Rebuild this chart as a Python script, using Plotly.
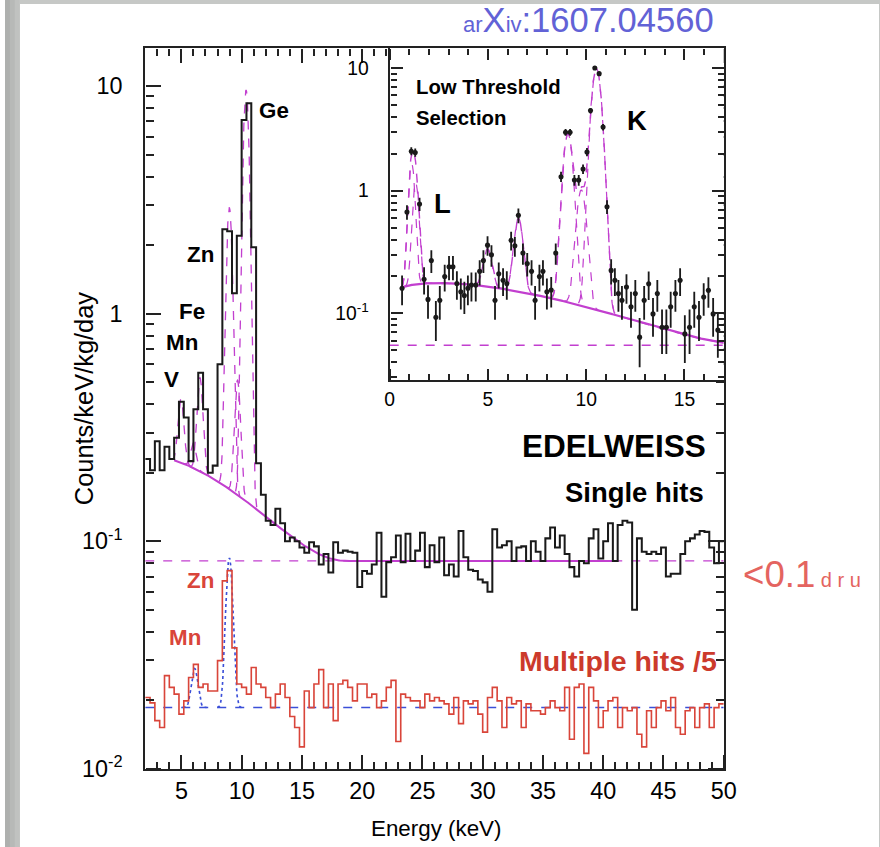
import numpy as np
import plotly.graph_objects as go

# Page is laid out on an 880 x 847 grid; the canvas is scaled up slightly (Z).
REF_W, REF_H = 880, 847
Z = 1.017
W, H = round(REF_W * Z), round(REF_H * Z)
FONT = "Liberation Sans, Arial, sans-serif"

# ---------------- data ----------------
# Single-hit spectrum, 0.4 keV bins starting at 2.0 keV (counts/keV/kg/day)
bin_width = 0.4
e_start = 2.0
single_hits = [
    0.23, 0.205, 0.275, 0.205, 0.26, 0.23, 0.285, 0.41, 0.35, 0.225,
    0.38, 0.55, 0.38, 0.20, 0.215, 0.60, 2.35, 2.3, 1.23, 2.2,
    7.1, 8.4, 1.96, 0.22, 0.16, 0.123, 0.118, 0.139, 0.12, 0.10,
    0.104, 0.10, 0.094, 0.089, 0.099, 0.095, 0.079, 0.088, 0.073, 0.099,
    0.089, 0.091, 0.09, 0.089, 0.063, 0.074, 0.072, 0.079, 0.109, 0.057,
    0.081, 0.085, 0.106, 0.081, 0.108, 0.082, 0.091, 0.109, 0.077, 0.096,
    0.081, 0.104, 0.071, 0.079, 0.07, 0.111, 0.085, 0.075, 0.074, 0.068,
    0.066, 0.06, 0.113, 0.094, 0.096, 0.10, 0.082, 0.094, 0.095, 0.082,
    0.10, 0.09, 0.082, 0.103, 0.115, 0.094, 0.106, 0.088, 0.077, 0.07,
    0.082, 0.08, 0.103, 0.113, 0.084, 0.10, 0.12, 0.082, 0.118, 0.123,
    0.121, 0.05, 0.103, 0.09, 0.088, 0.09, 0.088, 0.094, 0.07, 0.072,
    0.072, 0.088, 0.10, 0.103, 0.107, 0.111, 0.11, 0.094, 0.08, 0.10,
]

# Multiple-hit spectrum divided by 5, same binning
multiple_hits_div5 = [
    0.0206, 0.0195, 0.0163, 0.0152, 0.0257, 0.0228, 0.0213, 0.0174, 0.0199, 0.0252,
    0.0288, 0.0228, 0.0236, 0.022, 0.022, 0.0299, 0.067, 0.0743, 0.034, 0.0236,
    0.0228, 0.0213, 0.0279, 0.0236, 0.0228, 0.0206, 0.0186, 0.0213, 0.0236, 0.0206,
    0.017, 0.0152, 0.0125, 0.022, 0.0186, 0.0236, 0.0273, 0.0186, 0.0236, 0.0163,
    0.0236, 0.0245, 0.0228, 0.0199, 0.0236, 0.0236, 0.0206, 0.0213, 0.0186, 0.0199,
    0.0228, 0.0245, 0.0132, 0.0213, 0.0206, 0.0199, 0.0199, 0.0186, 0.0213, 0.0199,
    0.0206, 0.0199, 0.0193, 0.0174, 0.0206, 0.0158, 0.0199, 0.0193, 0.0199, 0.0174,
    0.0145, 0.0206, 0.0228, 0.0199, 0.0152, 0.0206, 0.0193, 0.0199, 0.0152, 0.0193,
    0.018, 0.018, 0.0174, 0.0186, 0.0199, 0.0186, 0.018, 0.0228, 0.0135, 0.0228,
    0.0236, 0.0117, 0.0228, 0.0199, 0.0152, 0.018, 0.0199, 0.0206, 0.0152, 0.0186,
    0.018, 0.0186, 0.0142, 0.0125, 0.018, 0.0152, 0.0186, 0.0199, 0.018, 0.0206,
    0.0152, 0.0142, 0.018, 0.0186, 0.0152, 0.0186, 0.0193, 0.0152, 0.0186, 0.0193,
]

# Low-threshold selection (inset): point energies (keV) and rates
inset_energy = [
    0.63, 0.88, 1.10, 1.30, 1.52, 1.75, 1.95, 2.12, 2.35, 2.55,
    2.80, 3.02, 3.22, 3.42, 3.62, 3.80, 3.98, 4.16, 4.38, 4.58,
    4.77, 4.98, 5.18, 5.36, 5.55, 5.77, 5.96, 6.18, 6.37, 6.55,
    6.78, 7.00, 7.22, 7.40, 7.62, 7.80, 8.00, 8.22, 8.45, 8.72,
    8.95, 9.18, 9.40, 9.62, 9.84, 10.04, 10.22, 10.44, 10.66, 10.86,
    11.06, 11.27, 11.46, 11.64, 11.82, 12.05, 12.28, 12.50, 12.72, 12.95,
    13.18, 13.40, 13.62, 13.86, 14.08, 14.30, 14.54, 14.78, 15.02, 15.26,
    15.50, 15.74, 15.98, 16.22, 16.46, 16.70,
]
inset_rate = [
    0.16, 0.67, 2.1, 2.05, 0.78, 0.19, 0.13, 0.27, 0.093, 0.128,
    0.20, 0.24, 0.24, 0.175, 0.15, 0.14, 0.16, 0.17, 0.17, 0.22,
    0.27, 0.36, 0.30, 0.128, 0.21, 0.186, 0.175, 0.394, 0.355, 0.63,
    0.31, 0.255, 0.22, 0.128, 0.20, 0.22, 0.15, 0.155, 0.31, 1.3,
    3.0, 3.0, 1.22, 1.22, 1.5, 2.07, 4.5, 10.0, 9.0, 3.3,
    0.74, 0.224, 0.186, 0.145, 0.128, 0.164, 0.113, 0.145, 0.064, 0.128,
    0.174, 0.099, 0.145, 0.077, 0.077, 0.113, 0.145, 0.186, 0.068, 0.077,
    0.113, 0.093, 0.136, 0.154, 0.099, 0.073,
]
inset_err_per_rate = 0.012   # variance scale for the Poisson-like error bars

# Fit model parameters: flat level + tritium beta spectrum + gaussian lines
main_flat = 0.082
main_tritium_ref = (4.5, 0.144)          # (energy, tritium contribution there)
main_line_e = [4.97, 5.99, 6.54, 8.98, 9.66, 10.37]
main_line_amp = [0.20, 0.06, 0.32, 2.75, 0.35, 9.45]
main_line_sigma = [0.22, 0.22, 0.22, 0.22, 0.22, 0.22]

multi_flat = 0.0186
multi_line_e = [6.1, 8.98]
multi_line_amp = [0.009, 0.066]
multi_line_sigma = [0.25, 0.25]

inset_flat = 0.055
inset_tritium_ref = (5.0, 0.11)
inset_line_e = [1.12, 1.32, 4.98, 6.55, 9.07, 9.75, 10.52]
inset_line_amp = [1.5, 1.0, 0.17, 0.45, 2.8, 0.9, 9.8]
inset_line_sigma = [0.14, 0.14, 0.2, 0.2, 0.22, 0.22, 0.23]

# ---------------- colours ----------------
BLACK = "#1a1a1a"
RED = "#d9453a"
MAGENTA = "#c23fcf"
BLUE = "#3b4fd8"
AXIS = "#222222"


def z(v):
    """Scale a pixel size (font, tick length, line width) to the canvas."""
    return v * Z


def zi(v):
    """Integer version of z() for properties that only accept integers."""
    return int(round(v * Z))


def tritium(E):
    """Tritium beta spectrum shape with Fermi function (Q = 18.6 keV)."""
    E = np.asarray(E, dtype=float)
    q, me, alpha = 18.6, 511.0, 1 / 137.036
    p = np.sqrt(E ** 2 + 2 * me * E)
    etot = E + me
    eta = 2 * alpha * etot / p
    fermi = 2 * np.pi * eta / (1 - np.exp(-2 * np.pi * eta))
    return fermi * p * etot * np.clip(q - E, 0, None) ** 2


def background(E, flat, ref):
    e_ref, v_ref = ref
    return flat + v_ref * tritium(E) / tritium(e_ref)


def gauss(E, mu, amp, sig):
    return amp * np.exp(-0.5 * ((np.asarray(E) - mu) / sig) ** 2)


def px(x):
    return x / REF_W


def py(y):
    return 1 - y / REF_H


edges = [e_start + bin_width * i for i in range(len(single_hits) + 1)]
fig = go.Figure()

# ---------------- main panel ----------------
fig.add_trace(go.Scatter(x=[2, 50], y=[main_flat, main_flat], mode="lines",
                         line=dict(color=MAGENTA, width=z(1.4), dash="dash"),
                         hoverinfo="skip"))
fig.add_trace(go.Scatter(x=[2, 50], y=[multi_flat, multi_flat], mode="lines",
                         line=dict(color=BLUE, width=z(1.4), dash="dash"),
                         hoverinfo="skip"))
for mu, a, s in zip(multi_line_e, multi_line_amp, multi_line_sigma):
    ee = np.linspace(mu - 4 * s, mu + 4 * s, 80)
    fig.add_trace(go.Scatter(x=ee, y=multi_flat + gauss(ee, mu, a, s), mode="lines",
                             line=dict(color=BLUE, width=z(1.6), dash="dot"),
                             hoverinfo="skip"))
e_fit = np.linspace(4.4, 41, 600)
fig.add_trace(go.Scatter(x=e_fit, y=background(e_fit, main_flat, main_tritium_ref),
                         mode="lines", line=dict(color=MAGENTA, width=z(2)),
                         hoverinfo="skip"))
e_pk = np.linspace(4.0, 12.0, 800)
bkg_pk = background(e_pk, main_flat, main_tritium_ref)
for mu, a, s in zip(main_line_e, main_line_amp, main_line_sigma):
    sel = np.abs(e_pk - mu) < 4 * s
    fig.add_trace(go.Scatter(x=e_pk[sel], y=bkg_pk[sel] + gauss(e_pk[sel], mu, a, s),
                             mode="lines",
                             line=dict(color=MAGENTA, width=z(1.3), dash="dash"),
                             hoverinfo="skip"))
fig.add_trace(go.Scatter(x=edges, y=multiple_hits_div5 + [multiple_hits_div5[-1]],
                         mode="lines", line=dict(color=RED, width=z(1.6), shape="hv"),
                         hoverinfo="skip"))
fig.add_trace(go.Scatter(x=edges, y=single_hits + [single_hits[-1]],
                         mode="lines", line=dict(color=BLACK, width=z(2), shape="hv"),
                         hoverinfo="skip"))

# ---------------- inset ----------------
fig.add_trace(go.Scatter(x=[0, 17], y=[inset_flat, inset_flat], mode="lines",
                         line=dict(color=MAGENTA, width=z(1.4), dash="dash"),
                         xaxis="x2", yaxis="y2", hoverinfo="skip"))
e_in = np.linspace(0.6, 17, 900)
bkg_in = background(e_in, inset_flat, inset_tritium_ref)
fig.add_trace(go.Scatter(x=e_in, y=bkg_in, mode="lines",
                         line=dict(color=MAGENTA, width=z(2.2)),
                         xaxis="x2", yaxis="y2", hoverinfo="skip"))
for mu, a, s in zip(inset_line_e, inset_line_amp, inset_line_sigma):
    sel = np.abs(e_in - mu) < 4 * s
    fig.add_trace(go.Scatter(x=e_in[sel], y=bkg_in[sel] + gauss(e_in[sel], mu, a, s),
                             mode="lines",
                             line=dict(color=MAGENTA, width=z(1.2), dash="dash"),
                             xaxis="x2", yaxis="y2", hoverinfo="skip"))
total_in = bkg_in + sum(gauss(e_in, mu, a, s) for mu, a, s in
                        zip(inset_line_e, inset_line_amp, inset_line_sigma))
fig.add_trace(go.Scatter(x=e_in, y=total_in, mode="lines",
                         line=dict(color=MAGENTA, width=z(1.4), dash="dash"),
                         xaxis="x2", yaxis="y2", hoverinfo="skip"))
rate = np.array(inset_rate)
err = np.sqrt(rate * inset_err_per_rate)
err_lo = np.minimum(err, 0.8 * rate)
fig.add_trace(go.Scatter(x=inset_energy, y=inset_rate, mode="markers",
                         marker=dict(color=BLACK, size=z(5)),
                         error_y=dict(type="data", array=err, arrayminus=err_lo,
                                      color=BLACK, thickness=z(1.8), width=0),
                         xaxis="x2", yaxis="y2", hoverinfo="skip"))

# ---------------- axes ----------------
x0, x1 = 140.7, 721.2
y_top, y_bot = 48, 768
ix0, iy_bot = 386, 380

main_xticks = [5, 10, 15, 20, 25, 30, 35, 40, 45, 50]
main_xminor = [e for e in range(3, 50) if e % 5]
main_yticks = [0.01, 0.1, 1, 10]
inset_xticks = [0, 5, 10, 15]
inset_xminor = [e for e in range(1, 17) if e % 5]
inset_yticks = [0.1, 1, 10]


def log_minor(lo, hi):
    return [m * 10.0 ** d for d in range(lo, hi + 1) for m in range(2, 10)]


main_tf = dict(family=FONT, size=z(23), color="black")
inset_tf = dict(family=FONT, size=z(19), color="black")
frame = dict(showline=True, linecolor=AXIS, linewidth=z(2), mirror=True, ticks="",
             showgrid=False, zeroline=False)

scales = {
    "mx": dict(range=[2, 50]),
    "my": dict(type="log", range=[-2, 1.167]),
    "ix": dict(range=[0, 17]),
    "iy": dict(type="log", range=[-1.547, 1.163]),
}

axes = dict(
    xaxis=dict(**frame, **scales["mx"], domain=[px(x0), px(x1)], anchor="y",
               tickvals=main_xticks, tickfont=main_tf),
    yaxis=dict(**frame, **scales["my"], domain=[py(y_bot), py(y_top)], anchor="x",
               tickvals=main_yticks,
               ticktext=["10<sup>-2</sup>", "10<sup>-1</sup>", "1", "10"],
               ticklabelstandoff=zi(16), tickfont=main_tf),
    xaxis2=dict(**frame, **scales["ix"], domain=[px(ix0), px(x1)], anchor="y2",
                tickvals=inset_xticks, tickfont=inset_tf),
    yaxis2=dict(**frame, **scales["iy"], domain=[py(iy_bot), py(y_top)], anchor="x2",
                tickvals=inset_yticks, ticktext=["10<sup>-1</sup>", "1", "10"],
                ticklabelstandoff=zi(15), tickfont=inset_tf),
)

# Tick marks pointing into the frames: free overlay axes placed on each frame edge,
# with their "outside" direction facing the plotting area.
tick_axes = [
    # (base axis, scale, side, position, tickvals, ticklen)
    ("x", "mx", "top", py(y_bot), main_xticks, 14),
    ("x", "mx", "top", py(y_bot), main_xminor, 7),
    ("x", "mx", "bottom", py(y_top), main_xticks, 14),
    ("x", "mx", "bottom", py(y_top), main_xminor, 7),
    ("y", "my", "right", px(x0), main_yticks, 15),
    ("y", "my", "right", px(x0), log_minor(-2, 1), 8),
    ("y", "my", "left", px(x1), main_yticks, 15),
    ("y", "my", "left", px(x1), log_minor(-2, 1), 8),
    ("x2", "ix", "top", py(iy_bot), inset_xticks, 11),
    ("x2", "ix", "top", py(iy_bot), inset_xminor, 6),
    ("x2", "ix", "bottom", py(y_top), inset_xticks, 11),
    ("x2", "ix", "bottom", py(y_top), inset_xminor, 6),
    ("y2", "iy", "right", px(ix0), inset_yticks, 12),
    ("y2", "iy", "right", px(ix0), log_minor(-2, 1), 6),
    ("y2", "iy", "left", px(x1), inset_yticks, 12),
    ("y2", "iy", "left", px(x1), log_minor(-2, 1), 6),
]
counters = {"x": 3, "y": 3}
for base_ax, sc, side, pos, tv, tl in tick_axes:
    letter = base_ax[0]
    n = counters[letter]
    counters[letter] += 1
    axes[f"{letter}axis{n}"] = dict(
        **scales[sc], overlaying=base_ax, anchor="free", position=pos, side=side,
        ticks="outside", ticklen=z(tl), tickwidth=z(1.6), tickcolor=AXIS, tickvals=tv,
        showticklabels=False, showline=False, showgrid=False, zeroline=False)
    if letter == "x":
        partner = "y" if base_ax == "x" else "y2"
        fig.add_trace(go.Scatter(x=[None], y=[None], xaxis=f"x{n}", yaxis=partner,
                                 mode="lines", hoverinfo="skip"))
    else:
        partner = "x" if base_ax == "y" else "x2"
        fig.add_trace(go.Scatter(x=[None], y=[None], xaxis=partner, yaxis=f"y{n}",
                                 mode="lines", hoverinfo="skip"))

fig.update_layout(
    width=W, height=H, autosize=False,
    margin=dict(l=0, r=0, t=0, b=0),
    paper_bgcolor="white", plot_bgcolor="white",
    showlegend=False,
    **axes,
)

# slide-like framing: grey strips along the left, top and right edges
for i, c in enumerate(["#aeb0ae", "#b7b9b7", "#c0c2c0"]):
    fig.add_shape(type="rect", xref="paper", yref="paper", layer="below",
                  x0=px(5 * i), x1=px(5 * i + 5), y0=0, y1=1,
                  fillcolor=c, line=dict(width=0))
fig.add_shape(type="rect", xref="paper", yref="paper", layer="below",
              x0=px(15), x1=1, y0=py(4), y1=1, fillcolor="#c6c8c6", line=dict(width=0))
fig.add_shape(type="rect", xref="paper", yref="paper", layer="below",
              x0=px(877), x1=1, y0=0, y1=1, fillcolor="#c6c8c6", line=dict(width=0))


def label(text, x, y, size, color="black", bold=True, xanchor="center", angle=0):
    t = f"<b>{text}</b>" if bold else text
    fig.add_annotation(text=t, x=px(x), y=py(y), xref="paper", yref="paper",
                       showarrow=False, xanchor=xanchor, yanchor="middle",
                       textangle=angle, font=dict(family=FONT, size=z(size), color=color))


label("Ge", 270, 110, 22)
label("Zn", 196, 254, 22)
label("Fe", 188, 311, 22)
label("Mn", 178, 342, 22)
label("V", 167, 379, 22)
label("Zn", 196, 580, 22, color=RED)
label("Mn", 181, 637, 22, color=RED)

label("EDELWEISS", 611, 445, 31)
label("Single hits", 632, 492, 27)
label("Multiple hits /5", 615, 660, 28, color="#cc3a2c")

label("Low Threshold", 410, 87, 20, xanchor="left")
label("Selection", 410, 118, 20, xanchor="left")
label("L", 439, 203, 27)
label("K", 634, 120, 27)

label("Counts/keV/kg/day", 80, 398, 25, bold=False, angle=-90)
label("Energy (keV)", 432, 828, 22, bold=False)

small_arxiv = zi(22)
label(f'<span style="font-size:{small_arxiv}px">ar</span>X'
      f'<span style="font-size:{small_arxiv}px">iv</span>:1607.04560',
      585, 20, 34, color="#6262d6", bold=False)
small_dru = zi(20)
label(f'&lt;0.1<span style="font-size:{small_dru}px">&nbsp;d&nbsp;r&nbsp;u</span>',
      800, 574, 36, color="#e46460", bold=False)

fig.write_html("out.html")
